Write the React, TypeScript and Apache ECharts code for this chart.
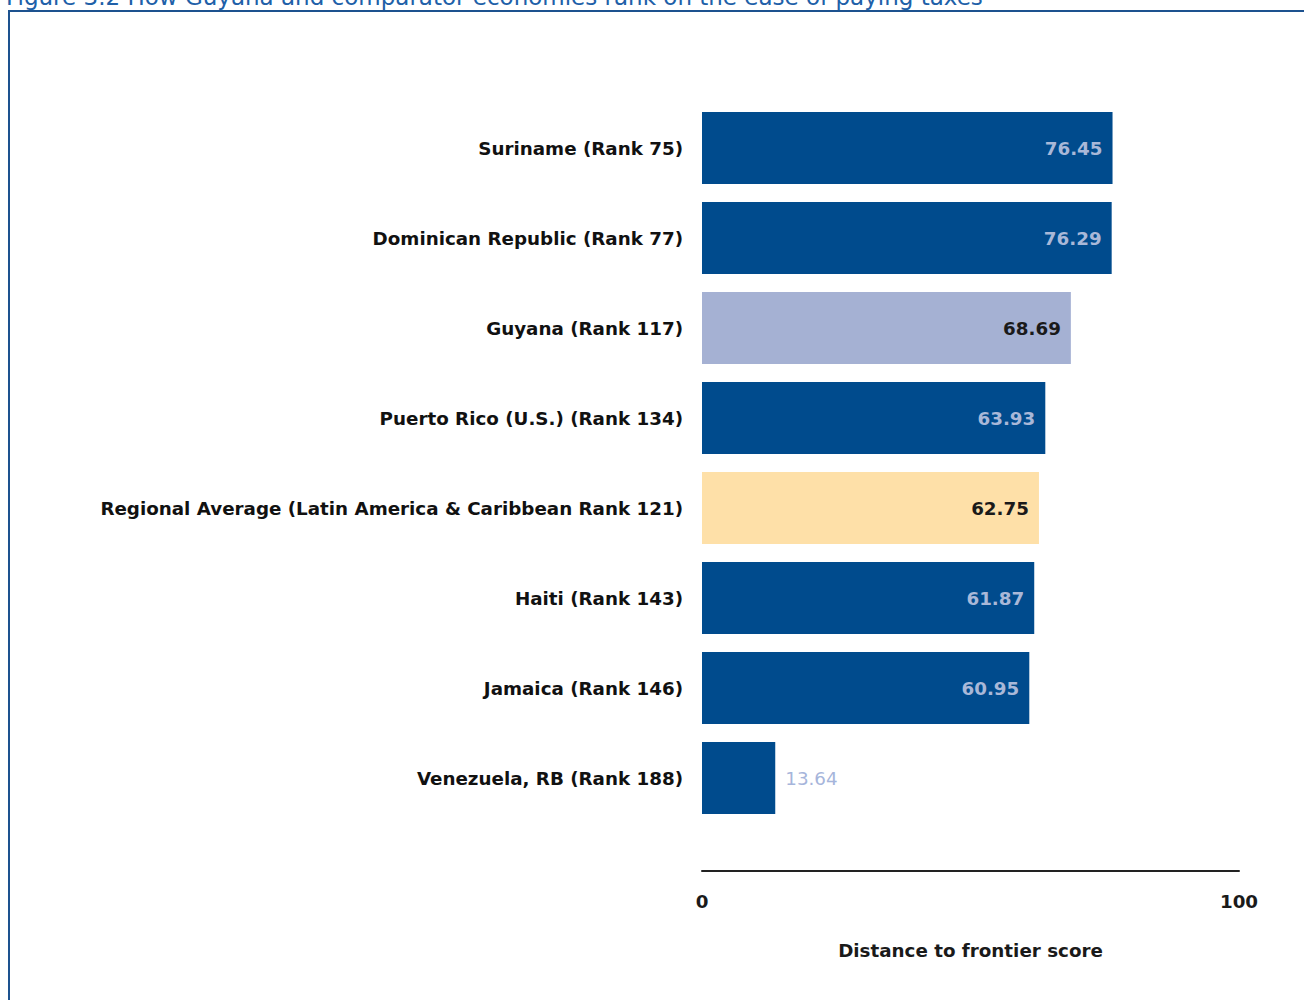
import React, { useEffect, useRef } from "react";
import * as echarts from "echarts";

const categories = [
  "Suriname (Rank 75)",
  "Dominican Republic (Rank 77)",
  "Guyana (Rank 117)",
  "Puerto Rico (U.S.) (Rank 134)",
  "Regional Average (Latin America & Caribbean Rank 121)",
  "Haiti (Rank 143)",
  "Jamaica (Rank 146)",
  "Venezuela, RB (Rank 188)",
];
const values = [76.45, 76.29, 68.69, 63.93, 62.75, 61.87, 60.95, 13.64];
const barColors = ["#004b8d", "#004b8d", "#a5b1d3", "#004b8d", "#fee0a8", "#004b8d", "#004b8d", "#004b8d"];
const labelColors = ["#a9b8d8", "#a9b8d8", "#1a1a1a", "#a9b8d8", "#1a1a1a", "#a9b8d8", "#a9b8d8", "#a6b5db"];
const xTicks = [0, 100];
const titleText = "Figure 3.2 How Guyana and comparator economies rank on the ease of paying taxes";
const axisName = "Distance to frontier score";

const FONT = "'DejaVu Sans', sans-serif";
const FS = 18.3;

export default function App() {
  const ref = useRef<HTMLDivElement>(null);
  useEffect(() => {
    if (!ref.current) return;
    const chart = echarts.init(ref.current, null, { renderer: "svg" });
    const data = values.map((v, i) => {
      const outside = v < 30;
      return {
        value: v,
        itemStyle: { color: barColors[i] },
        label: {
          show: true,
          position: outside ? "right" : "insideRight",
          distance: 10,
          color: labelColors[i],
          fontWeight: outside ? "normal" : "bold",
          fontSize: FS,
          fontFamily: FONT,
        },
      };
    });
    chart.setOption({
      animation: false,
      backgroundColor: "#ffffff",
      grid: { left: 702, right: 65, top: 103, bottom: 177, containLabel: false },
      xAxis: {
        type: "value",
        min: 0,
        max: 100,
        interval: 100,
        offset: 48,
        axisLine: { show: true, lineStyle: { color: "#222222", width: 2 } },
        axisTick: { show: false },
        splitLine: { show: false },
        axisLabel: {
          margin: 21,
          color: "#1a1a1a",
          fontSize: FS,
          fontWeight: "bold",
          fontFamily: FONT,
          formatter: (v: number) => (xTicks.includes(v) ? String(v) : ""),
        },
        name: axisName,
        nameLocation: "middle",
        nameGap: 70,
        nameTextStyle: { color: "#1a1a1a", fontSize: FS, fontWeight: "bold", fontFamily: FONT },
      },
      yAxis: {
        type: "category",
        data: categories,
        inverse: true,
        axisLine: { show: false },
        axisTick: { show: false },
        axisLabel: {
          margin: 19,
          color: "#111111",
          fontSize: FS,
          fontWeight: "bold",
          fontFamily: FONT,
        },
      },
      series: [
        {
          type: "bar",
          data,
          barCategoryGap: "20%",
        },
      ],
      graphic: [
        {
          type: "rect",
          shape: { x: 9, y: 11, width: 1310, height: 1010 },
          style: { fill: "none", stroke: "#1d528f", lineWidth: 2 },
          silent: true,
        },
        {
          type: "text",
          x: 6,
          y: 8,
          style: {
            text: titleText,
            fill: "#2060a8",
            fontSize: 23,
            fontFamily: FONT,
            verticalAlign: "bottom",
          },
          silent: true,
        },
      ],
    });
    return () => chart.dispose();
  }, []);
  return (
    <div
      ref={ref}
      style={{ position: "fixed", left: 0, top: 0, width: 1304, height: 1000 }}
    />
  );
}
